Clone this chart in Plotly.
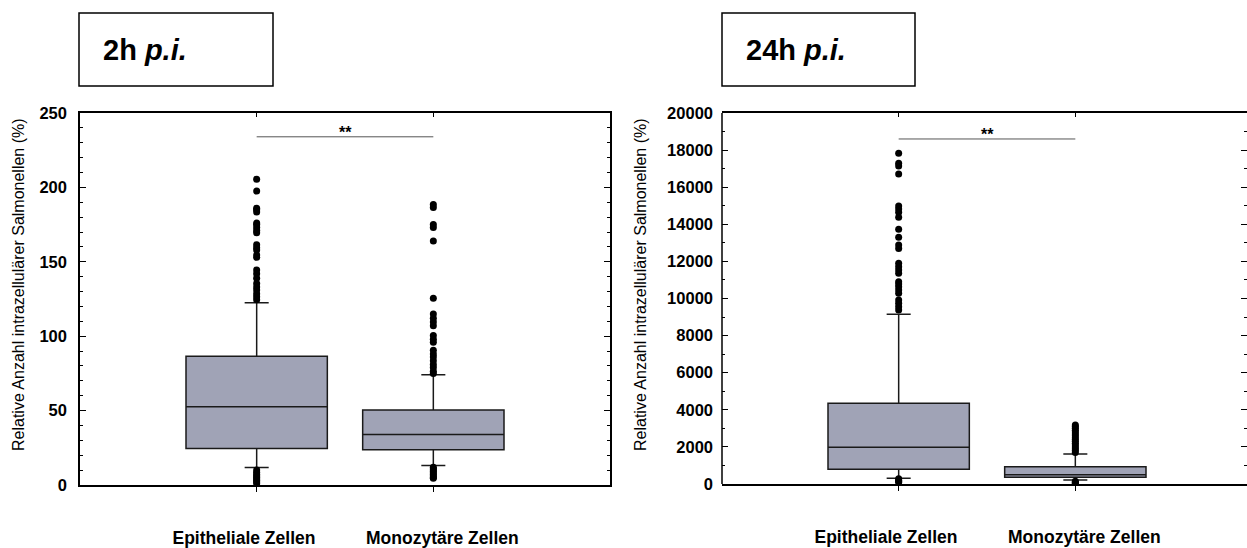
import plotly.graph_objects as go

# ---------------- data ----------------
CATEGORIES = ["Epitheliale Zellen", "Monozytäre Zellen"]
CAT_POS = [0, 1]
LABEL_POS = [-0.072, 1.051]
PANEL_TITLES = ["<b>2h <i>p.i.</i></b>", "<b>24h <i>p.i.</i></b>"]
Y_TITLE = "Relative Anzahl intrazellulärer Salmonellen (%)"
SIG_TEXT = "**"

# 2h p.i.
H2_Q1 = [24.5, 23.7]
H2_MED = [52.6, 33.9]
H2_Q3 = [86.5, 50.4]
H2_LOW = [11.7, 13.1]
H2_UP = [122.4, 74.1]
H2_OUT_EPI = [205.5, 197.5, 186, 185, 183.5, 176, 175, 173, 171, 169.5,
              161.5, 159.5, 158, 154.5, 153, 144.5, 142, 139, 135.5, 133,
              131, 128.5, 126.5, 124.5, 10, 8.5, 7, 6, 5, 4, 3, 2, 1]
H2_OUT_MONO = [188.5, 186.5, 175, 173, 164, 125.5, 115, 112, 109.5, 107,
               100.5, 98, 96, 90.5, 88, 86, 83.5, 81, 79, 76.5, 75,
               12, 11, 10, 9, 8, 7, 6, 5, 4.5]
H2_SIG = 234
H2_TICKS = [0, 50, 100, 150, 200, 250]

# 24h p.i.
H24_Q1 = [790, 361]
H24_MED = [1980, 501]
H24_Q3 = [4350, 933]
H24_LOW = [307, 216]
H24_UP = [9150, 1617]
H24_OUT_EPI = [17830, 17290, 17140, 16710, 14990, 14825, 14650, 14380, 13730,
               13300, 12880, 12700, 11900, 11715, 11536, 11356, 10905, 10780,
               10640, 10460, 10280, 9920, 9740, 9560, 9380, 280, 200, 150, 100]
H24_OUT_MONO = [3180, 3100, 3000, 2900, 2800, 2700, 2600, 2500, 2400, 2300,
                2200, 2100, 2000, 1900, 1800, 1700, 150, 100, 50, 20]
H24_SIG = 18600
H24_TICKS = [0, 2000, 4000, 6000, 8000, 10000, 12000, 14000, 16000, 18000, 20000]

# ---------------- style ----------------
W, H = 1247, 548
FILL = "#A0A3B6"
LINE = "#1a1a1a"
FONT = "Liberation Sans, Arial, sans-serif"


def px_x(p):
    return p / W


def px_y(p):
    return 1 - p / H


fig = go.Figure()

panels = [
    dict(xa="x", ya="y", q1=H2_Q1, med=H2_MED, q3=H2_Q3, low=H2_LOW, up=H2_UP,
         outs=[H2_OUT_EPI, H2_OUT_MONO], sig=H2_SIG),
    dict(xa="x2", ya="y2", q1=H24_Q1, med=H24_MED, q3=H24_Q3, low=H24_LOW, up=H24_UP,
         outs=[H24_OUT_EPI, H24_OUT_MONO], sig=H24_SIG),
]

for p in panels:
    fig.add_trace(go.Box(
        x=CAT_POS, q1=p["q1"], median=p["med"], q3=p["q3"],
        lowerfence=p["low"], upperfence=p["up"],
        width=0.8, whiskerwidth=0.17, boxpoints=False,
        fillcolor=FILL, line=dict(color=LINE, width=1.5),
        xaxis=p["xa"], yaxis=p["ya"], showlegend=False, hoverinfo="skip"))
    for i, outs in enumerate(p["outs"]):
        fig.add_trace(go.Scatter(
            x=[CAT_POS[i]] * len(outs), y=outs, mode="markers",
            marker=dict(color="black", size=7),
            xaxis=p["xa"], yaxis=p["ya"], showlegend=False, hoverinfo="skip"))
    fig.add_trace(go.Scatter(
        x=CAT_POS, y=[p["sig"], p["sig"]], mode="lines",
        line=dict(color="#555555", width=1),
        xaxis=p["xa"], yaxis=p["ya"], showlegend=False, hoverinfo="skip"))
    fig.add_annotation(x=sum(CAT_POS) / 2, y=p["sig"], xref=p["xa"], yref=p["ya"],
                       text="<b>" + SIG_TEXT + "</b>", showarrow=False,
                       yanchor="bottom", yshift=-6,
                       font=dict(family=FONT, size=16, color="black"))

# dummy traces for the label / top-tick axes
for xa, ya in (("x3", "y"), ("x4", "y2"), ("x5", "y"), ("x6", "y2")):
    fig.add_trace(go.Scatter(x=[None], y=[None], xaxis=xa, yaxis=ya,
                             showlegend=False, hoverinfo="skip"))

left_dom = [px_x(80), px_x(610)]
right_dom = [px_x(722), 1.0]
ydom_left = [px_y(485), px_y(113)]
ydom_right = [px_y(484), px_y(113)]
right_range = [-1, -1 + (W - 722) / (530 / 3)]

common_x = dict(showline=True, linecolor="black", linewidth=1.5, mirror=True,
                tickvals=CAT_POS, ticks="outside", ticklen=5, tickcolor="black",
                showticklabels=False, showgrid=False, zeroline=False, automargin=False)
label_x = dict(tickvals=LABEL_POS, ticktext=CATEGORIES, ticks="", showline=False,
               showgrid=False, zeroline=False, ticklabelstandoff=40, automargin=False,
               tickfont=dict(family=FONT, size=17.5, color="black", weight="bold"))
top_x = dict(side="top", tickvals=CAT_POS, ticks="inside", ticklen=4, tickcolor="black",
             showticklabels=False, showline=False, showgrid=False, zeroline=False,
             automargin=False)
tickfont_y = dict(family=FONT, size=16.5, color="black", weight="bold")

fig.update_layout(
    width=W, height=H,
    margin=dict(l=0, r=0, t=0, b=0, pad=0),
    paper_bgcolor="white", plot_bgcolor="white",
    showlegend=False,
    xaxis=dict(domain=left_dom, range=[-1, 2], anchor="y", **common_x),
    xaxis2=dict(domain=right_dom, range=right_range, anchor="y2", **common_x),
    xaxis3=dict(domain=left_dom, range=[-1, 2], anchor="y", overlaying="x", **label_x),
    xaxis4=dict(domain=right_dom, range=right_range, anchor="y2", overlaying="x2", **label_x),
    xaxis5=dict(domain=left_dom, range=[-1, 2], anchor="y", overlaying="x", **top_x),
    xaxis6=dict(domain=right_dom, range=right_range, anchor="y2", overlaying="x2", **top_x),
    yaxis=dict(domain=ydom_left, range=[0, 250], anchor="x", automargin=False,
               showline=True, linecolor="black", linewidth=1.5, mirror="ticks",
               tickvals=H2_TICKS, ticks="inside", ticklen=6, tickformat="d",
               tickcolor="black", minor=dict(ticks="inside", dtick=10, ticklen=3,
                                              tickcolor="black"),
               ticklabelstandoff=8, showgrid=False, zeroline=False,
               tickfont=tickfont_y),
    yaxis2=dict(domain=ydom_right, range=[0, 20000], anchor="x2", automargin=False,
                showline=False, mirror="ticks",
                tickvals=H24_TICKS, ticks="inside", ticklen=6, tickformat="d",
                tickcolor="black", minor=dict(ticks="inside", dtick=1000, ticklen=3,
                                               tickcolor="black"),
                ticklabelstandoff=8, showgrid=False, zeroline=False,
                tickfont=tickfont_y),
)

# left border line of right panel (its right side is cut off by the page edge)
fig.add_shape(type="line", xref="paper", yref="paper",
              x0=right_dom[0], x1=right_dom[0], y0=ydom_right[0], y1=ydom_right[1],
              line=dict(color="black", width=1.5))

# title boxes
boxes = [(79, 273, 101), (722, 915, 744)]
for (bx0, bx1, tx), title in zip(boxes, PANEL_TITLES):
    fig.add_shape(type="rect", xref="paper", yref="paper",
                  x0=px_x(bx0), x1=px_x(bx1), y0=px_y(86), y1=px_y(13),
                  line=dict(color="black", width=1.5), fillcolor="rgba(0,0,0,0)")
    fig.add_annotation(x=px_x(tx), y=px_y(50), xref="paper", yref="paper",
                       text=title, showarrow=False, xanchor="left", yanchor="middle",
                       font=dict(family=FONT, size=29, color="black"))

# y-axis titles
for xp in (18, 640):
    fig.add_annotation(x=px_x(xp), y=px_y(285), xref="paper", yref="paper",
                       text=Y_TITLE, textangle=-90, showarrow=False,
                       xanchor="center", yanchor="middle",
                       font=dict(family=FONT, size=16, color="black"))

POST = ("document.documentElement.style.margin='0';"
        "document.body.style.margin='0';document.body.style.padding='0';"
        "document.documentElement.style.overflow='hidden';"
        "document.body.style.overflow='hidden';"
        "var d=document.getElementById('{plot_id}');"
        "d.style.position='absolute';d.style.left='0px';d.style.top='0px';")

fig.write_html("out.html", post_script=POST, config={"displayModeBar": False})
